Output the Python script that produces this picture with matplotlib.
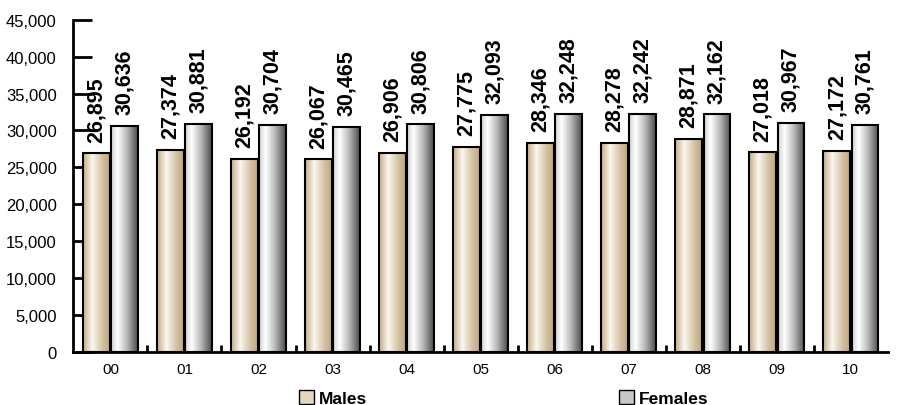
import matplotlib.pyplot as plt
import numpy as np
from matplotlib.colors import LinearSegmentedColormap
from matplotlib.patches import Patch

plt.rcParams['font.family'] = ['Liberation Sans', 'DejaVu Sans']

years = ['00', '01', '02', '03', '04', '05', '06', '07', '08', '09', '10']
males = [26895, 27374, 26192, 26067, 26906, 27775, 28346, 28278, 28871, 27018, 27172]
females = [30636, 30881, 30704, 30465, 30806, 32093, 32248, 32242, 32162, 30967, 30761]

male_cmap = LinearSegmentedColormap.from_list(
    'm', [(0, '#c4ab85'), (0.35, '#fbf7ef'), (0.7, '#d6c4a6'), (1, '#bfa67f')])
female_cmap = LinearSegmentedColormap.from_list(
    'f', [(0, '#d0d0d0'), (0.25, '#ffffff'), (0.6, '#b8b8b8'), (1, '#4a4a4a')])

fig = plt.figure(figsize=(9.06, 4.06), dpi=100)
ax = fig.add_axes([0.081, 0.131, 0.899, 0.818])

x = np.arange(len(years))
w = 0.36
gap = 0.02
grad = np.linspace(0, 1, 256).reshape(1, -1)


def gradient_bars(xs, vals, cmap):
    bars = ax.bar(xs, vals, w, facecolor='none', edgecolor='black', lw=1.5, zorder=3)
    for b in bars:
        im = ax.imshow(grad, cmap=cmap, aspect='auto', zorder=2,
                       extent=[b.get_x(), b.get_x() + b.get_width(), 0, b.get_height()])
        im.set_clip_path(b)
    return bars


xm = x - w / 2 - gap / 2
xf = x + w / 2 + gap / 2
gradient_bars(xm, males, male_cmap)
gradient_bars(xf, females, female_cmap)

for xi, v in zip(xm, males):
    ax.text(xi, v + 1600, f'{v:,}', rotation=90, ha='center', va='bottom',
            fontsize=15.5, fontweight='bold')
for xi, v in zip(xf, females):
    ax.text(xi, v + 1600, f'{v:,}', rotation=90, ha='center', va='bottom',
            fontsize=15.5, fontweight='bold')

ax.set_xlim(-0.5, len(years) - 0.5)
ax.set_ylim(0, 45000)
ax.set_yticks(np.arange(0, 45001, 5000))
ax.set_yticklabels([f'{t:,}' for t in range(0, 45001, 5000)], fontsize=12)
ax.set_xticks(x)
ax.set_xticklabels(years, fontsize=11)
ax.set_xticks(np.arange(0.5, len(years) - 0.5, 1), minor=True)
ax.tick_params(axis='x', which='major', length=0, pad=7)
ax.tick_params(axis='x', which='minor', direction='in', length=5, width=2)
ax.tick_params(axis='y', direction='in', length=14, width=2, pad=12)
ax.set_axisbelow(True)

for s in ['top', 'right']:
    ax.spines[s].set_visible(False)
ax.spines['left'].set_linewidth(2)
ax.spines['bottom'].set_linewidth(2)

handles = [Patch(facecolor='#e4d6bf', edgecolor='black', label='Males'),
           Patch(facecolor='#c8c8c8', edgecolor='black', label='Females')]
fig.legend(handles=handles, loc='lower center', bbox_to_anchor=(0.556, -0.042), ncol=2,
           frameon=False, prop={'weight': 'bold', 'size': 12.5}, columnspacing=14.5,
           handlelength=0.85, handleheight=0.85, handletextpad=0.3)

fig.savefig('out.png', dpi=100)
